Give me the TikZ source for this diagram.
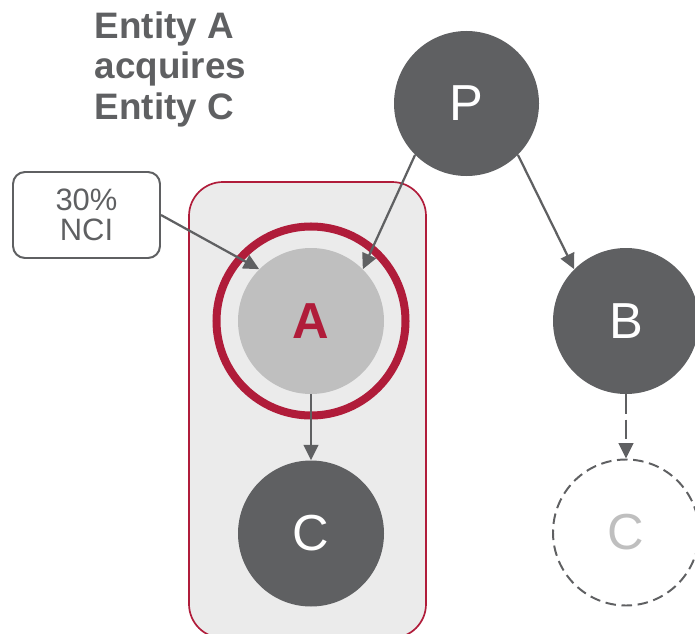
\documentclass[tikz,border=0pt]{standalone}
\usepackage{fontspec}
\setmainfont{Liberation Sans}
\usetikzlibrary{arrows.meta, shapes.geometric}
\definecolor{dgray}{HTML}{5F6062}
\definecolor{lgray}{HTML}{BFBFBF}
\definecolor{boxgray}{HTML}{EBEBEB}
\definecolor{crim}{HTML}{B01C3A}

\begin{document}
\begin{tikzpicture}[ent/.style={circle, fill=dgray, text=white, minimum size=3.65cm, inner sep=0pt, font=\fontsize{36}{36}\selectfont},
    arr/.style={draw=dgray, line width=1.6pt, -{Triangle[length=11pt,width=10.5pt]}}]
    \useasboundingbox (0,0) rectangle (17.375,-15.85);
    \draw[crim, fill=boxgray, line width=1.2pt, rounded corners=0.85cm] (4.725,-4.55) rectangle (10.65,-15.95);

    \node[align=left, anchor=north west, inner sep=0pt, text=dgray, font=\bfseries\fontsize{26.2}{29}\selectfont] (title) at (2.36,-0.28) {Entity A\\acquires\\Entity C};

    \node[ent, minimum size=3.625cm] (nP) at (11.6625,-2.5875) {P};
    \node[circle, draw=crim, line width=5.7pt, minimum size=4.725cm] (ring) at (7.775,-8.025) {};
    \node[ent, fill=lgray, text=crim, font=\bfseries\fontsize{36}{36}\selectfont] (nA) at (7.775,-8.025) {A};
    \node[ent] (nC) at (7.775,-13.3375) {C};
    \node[ent] (nB) at (15.65,-8.025) {B};
    \node[ent, fill=none, draw=dgray, line width=1.4pt, dash pattern=on 7.5pt off 4pt, text=lgray] (nC2) at (15.65,-13.3125) {C};
    \node[rectangle, draw=dgray, line width=1.4pt, rounded corners=0.3cm, minimum width=3.675cm, minimum height=2.15cm, align=center, text=dgray, font=\fontsize{22}{21.5}\selectfont] (nci) at (2.1625,-5.375) {30\%\\NCI};

    \draw[arr] (nci.east) -- (nA.135);
    \draw[arr] (nP.225) -- (nA.45);
    \draw[arr] (nP.-45) -- (nB.135);
    \draw[arr] (nA.south) -- (nC.north);
    \draw[arr, dash pattern=on 14pt off 4pt] (nB.south) -- (nC2.north);
\end{tikzpicture}
\end{document}
